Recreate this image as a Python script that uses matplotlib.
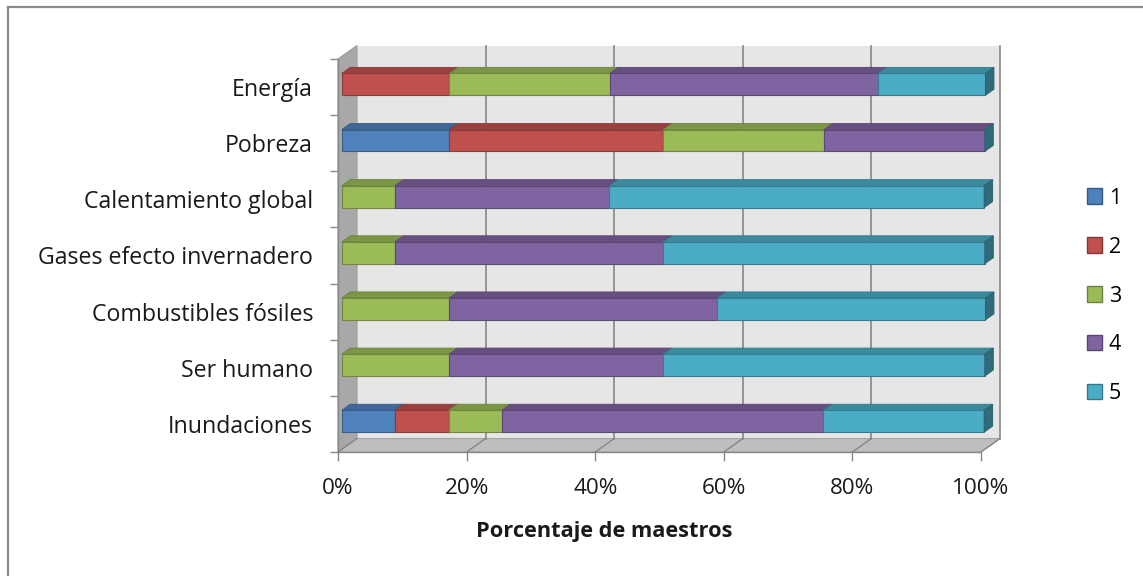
import matplotlib
matplotlib.use("Agg")
import matplotlib.pyplot as plt
from matplotlib.patches import Polygon, Patch
from matplotlib.lines import Line2D
from matplotlib.colors import to_rgb

plt.rcParams["font.family"] = ["Open Sans", "DejaVu Sans"]

# survey answers, share of teachers (%) per rating 1..5
temas = ["Inundaciones", "Ser humano", "Combustibles fósiles",
         "Gases efecto invernadero", "Calentamiento global", "Pobreza", "Energía"]
r1 = [8.3, 0.0, 0.0, 0.0, 0.0, 16.7, 0.0]
r2 = [8.3, 0.0, 0.0, 0.0, 0.0, 33.3, 16.7]
r3 = [8.3, 16.7, 16.7, 8.3, 8.3, 25.0, 25.0]
r4 = [50.0, 33.3, 41.7, 41.7, 33.3, 25.0, 41.7]
r5 = [25.0, 50.0, 41.7, 50.0, 58.3, 0.0, 16.7]
series = [r1, r2, r3, r4, r5]
niveles = ["1", "2", "3", "4", "5"]
colores = ["#4F81BD", "#C0504D", "#9BBB59", "#8064A2", "#4BACC6"]
xticks = [0, 20, 40, 60, 80, 100]


def shade(c, k):
    r, g, b = to_rgb(c)
    return (r * k, g * k, b * k)


W, H = 1143, 576
fig = plt.figure(figsize=(W / 100, H / 100), dpi=100)
ax = fig.add_axes([338 / W, 1 - 452 / H, 643 / W, 393 / H])
ax.set_xlim(0, 100)
ax.set_ylim(-0.5, len(temas) - 0.5)

# depth of the 3-D box in data units
dX, dY = 2.95, 0.24
ytop = len(temas) - 0.5
grid_c = "#878787"

# back wall, left wall, floor
ax.add_patch(Polygon([(dX, -0.5 + dY), (100 + dX, -0.5 + dY), (100 + dX, ytop + dY),
                      (dX, ytop + dY)], closed=True, fc="#E6E6E6", ec="none",
                     zorder=0, clip_on=False))
ax.add_patch(Polygon([(0, -0.5), (dX, -0.5 + dY), (dX, ytop + dY), (0, ytop)],
                     closed=True, fc="#A8A8A8", ec="#9A9A9A", lw=0.8,
                     zorder=0.2, clip_on=False))
ax.add_patch(Polygon([(0, -0.5), (100, -0.5), (100 + dX, -0.5 + dY), (dX, -0.5 + dY)],
                     closed=True, fc="#BEBEBE", ec="#A5A5A5", lw=0.8,
                     zorder=0.2, clip_on=False))
for t in xticks[1:]:
    ax.plot([t + dX, t + dX], [-0.5 + dY, ytop + dY], color=grid_c, lw=1.2,
            zorder=0.3, clip_on=False)
for t in xticks:
    ax.plot([t, t + dX], [-0.5, -0.5 + dY], color=grid_c, lw=1.0,
            zorder=0.3, clip_on=False)

# stacked bars with a top face; the right end cap takes the last series' colour
h = 0.39
f0, f1 = 0.2, 0.65
cap = colores[-1]
for i, tema in enumerate(temas):
    left = 0.0
    for s, col in zip(series, colores):
        v = s[i]
        if v <= 0:
            continue
        l, r = left, left + v
        y0, y1 = i - h / 2, i + h / 2
        ax.add_patch(Polygon([(l + f0 * dX, y1 + f0 * dY), (r + f0 * dX, y1 + f0 * dY),
                              (r + f1 * dX, y1 + f1 * dY), (l + f1 * dX, y1 + f1 * dY)],
                             closed=True, fc=shade(col, 0.8), ec=shade(col, 0.7),
                             lw=0.6, zorder=3, clip_on=False))
        ax.add_patch(Polygon([(l + f0 * dX, y0 + f0 * dY), (r + f0 * dX, y0 + f0 * dY),
                              (r + f0 * dX, y1 + f0 * dY), (l + f0 * dX, y1 + f0 * dY)],
                             closed=True, fc=col, ec=shade(col, 0.72),
                             lw=0.8, zorder=3, clip_on=False))
        left = r
    ax.add_patch(Polygon([(left + f0 * dX, i - h / 2 + f0 * dY),
                          (left + f1 * dX, i - h / 2 + f1 * dY),
                          (left + f1 * dX, i + h / 2 + f1 * dY),
                          (left + f0 * dX, i + h / 2 + f0 * dY)],
                         closed=True, fc=shade(cap, 0.62), ec=shade(cap, 0.55),
                         lw=0.6, zorder=3, clip_on=False))

# axes, ticks, labels
for side in ("top", "right"):
    ax.spines[side].set_visible(False)
for side in ("left", "bottom"):
    ax.spines[side].set_color(grid_c)
    ax.spines[side].set_linewidth(1.0)
ax.patch.set_visible(False)

ax.set_yticks(range(len(temas)))
ax.set_yticklabels(temas, fontsize=16.7, color="#1A1A1A")
ax.set_yticks([k - 0.5 for k in range(len(temas) + 1)], minor=True)
ax.tick_params(axis="y", which="major", length=0, pad=18)
ax.tick_params(axis="y", which="minor", length=6, width=1.0, color=grid_c)

ax.set_xticks(xticks)
ax.set_xticklabels([f"{t}%" for t in xticks], fontsize=16.2, color="#1A1A1A")
ax.tick_params(axis="x", length=6.5, width=1.0, color=grid_c, pad=12)
ax.set_xlabel("Porcentaje de maestros", fontsize=15.7, fontweight="bold",
              color="#1A1A1A")
ax.xaxis.set_label_coords((604 - 338) / 643, -0.175)

handles = [Patch(facecolor=c, edgecolor=shade(c, 0.7), lw=1.0) for c in colores]
fig.legend(handles, niveles, loc="center left", bbox_to_anchor=(1068 / W, 1 - 296 / H),
           frameon=False, fontsize=15.5, handlelength=0.7, handleheight=0.7,
           handletextpad=0.3, labelspacing=1.3)

# chart area border (top and left edges)
fig.add_artist(Line2D([8 / W, 8 / W], [0, 1 - 7 / H], color="#8C8C8C", lw=1.6))
fig.add_artist(Line2D([8 / W, 1], [1 - 7 / H, 1 - 7 / H], color="#8C8C8C", lw=1.6))

fig.savefig("out.png", dpi=100, facecolor="white")
